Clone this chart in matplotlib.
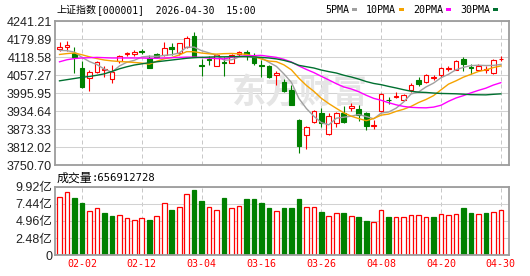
import numpy as np
import matplotlib
matplotlib.use("Agg")
import matplotlib.pyplot as plt
from matplotlib.patches import Rectangle

# trading days (MM-DD), last 60 sessions up to 2026-04-30
dates = ["01-28", "01-29", "01-30", "02-02", "02-03", "02-04", "02-05", "02-06",
         "02-09", "02-10", "02-11", "02-12", "02-13", "02-24", "02-25", "02-26",
         "02-27", "03-02", "03-03", "03-04", "03-05", "03-06", "03-09", "03-10",
         "03-11", "03-12", "03-13", "03-16", "03-17", "03-18", "03-19", "03-20",
         "03-23", "03-24", "03-25", "03-26", "03-27", "03-30", "03-31", "04-01",
         "04-02", "04-03", "04-07", "04-08", "04-09", "04-10", "04-13", "04-14",
         "04-15", "04-16", "04-17", "04-20", "04-21", "04-22", "04-23", "04-24",
         "04-27", "04-28", "04-29", "04-30"]
tick_dates = ["02-02", "02-12", "03-04", "03-16", "03-26", "04-08", "04-20", "04-30"]

opens = [4148, 4155, 4132, 4081, 4046, 4067, 4076, 4043, 4107, 4130,
         4129, 4139, 4115, 4130, 4126, 4152, 4132, 4155, 4191, 4091,
         4113, 4090, 4101, 4100, 4128, 4138, 4121, 4092, 4088, 4058,
         4033, 4007, 3905, 3852, 3896, 3927, 3856, 3893, 3927, 3945,
         3943, 3928, 3884, 3934, 3974, 3983, 3974, 4008, 4041, 4033,
         4048, 4057, 4080, 4076, 4114, 4084, 4076, 4076, 4065, 4111]
highs = [4171, 4173, 4153, 4105, 4074, 4106, 4089, 4092, 4126, 4138,
         4143, 4146, 4126, 4134, 4172, 4168, 4168, 4191, 4203, 4112,
         4123, 4128, 4121, 4129, 4139, 4143, 4132, 4110, 4092, 4073,
         4045, 4024, 3908, 3883, 3937, 3944, 3927, 3932, 3952, 3963,
         3957, 3931, 3906, 3997, 3983, 4000, 3993, 4030, 4050, 4060,
         4059, 4084, 4090, 4110, 4118, 4096, 4096, 4090, 4112, 4122]
lows = [4139, 4139, 4065, 4015, 4005, 4064, 4050, 4032, 4098, 4124,
        4124, 4129, 4081, 4117, 4123, 4126, 4126, 4151, 4118, 4054,
        4092, 4088, 4054, 4098, 4124, 4109, 4092, 4050, 4049, 4024,
        3999, 3954, 3792, 3806, 3893, 3880, 3854, 3881, 3895, 3934,
        3900, 3870, 3875, 3932, 3959, 3979, 3968, 4000, 4019, 4030,
        4040, 4052, 4073, 4074, 4071, 4062, 4071, 4066, 4063, 4105]
closes = [4153, 4159, 4121, 4018, 4068, 4102, 4080, 4069, 4124, 4132,
          4135, 4137, 4083, 4120, 4149, 4147, 4166, 4183, 4120, 4088,
          4110, 4126, 4099, 4126, 4136, 4130, 4100, 4088, 4052, 4066,
          4002, 3956, 3814, 3880, 3934, 3893, 3918, 3927, 3897, 3952,
          3921, 3884, 3888, 3994, 3971, 3986, 3990, 4025, 4028, 4057,
          4051, 4082, 4083, 4107, 4097, 4081, 4088, 4078, 4109, 4114]
# volume in 亿
volumes = [8.45, 9.19, 8.21, 7.48, 6.40, 6.84, 6.16, 5.72, 5.86, 5.38,
           5.08, 5.38, 5.13, 5.67, 7.48, 6.60, 6.99, 8.80, 9.38, 7.77,
           6.99, 6.55, 8.21, 6.84, 7.13, 8.06, 8.06, 7.48, 6.82, 6.38,
           6.82, 6.82, 8.15, 6.97, 6.97, 6.29, 5.68, 6.07, 6.10, 5.68,
           5.51, 4.98, 4.79, 6.53, 5.51, 5.51, 5.51, 5.80, 5.80, 5.51,
           5.51, 5.95, 5.80, 5.95, 6.82, 6.10, 5.95, 6.10, 6.25, 6.56912728]

# moving-average values before enough closes are inside the window
ma5_head = [4142, 4141, 4136, 4118]
ma10_head = [4128, 4131, 4133, 4127, 4120, 4114, 4109, 4106, 4104]
ma20_head = [4103, 4110, 4114, 4116, 4117, 4118, 4117, 4116, 4116, 4116,
             4116, 4116, 4115, 4115, 4116, 4117, 4118, 4119, 4119]
ma30_head = [4038, 4042, 4046, 4050, 4053, 4057, 4062, 4070, 4079, 4086,
             4092, 4096, 4100, 4103, 4106, 4109, 4112, 4115, 4117, 4118,
             4119, 4120, 4120, 4120.5, 4121, 4120.5, 4119.5, 4118, 4116]

y_ticks = [3750.70, 3812.02, 3873.33, 3934.64, 3995.95, 4057.27, 4118.58, 4179.89, 4241.21]
y_ticklabels = ["3750.70", "3812.02", "3873.33", "3934.64", "3995.95",
                "4057.27", "4118.58", "4179.89", "4241.21"]
v_ticks = [0, 2.48, 4.96, 7.44, 9.92]
v_ticklabels = ["0", "2.48亿", "4.96亿", "7.44亿", "9.92亿"]

ma_labels = ["5PMA", "10PMA", "20PMA", "30PMA"]
ma_colors = ["#a0a0a0", "#f5a300", "#ff00ff", "#007030"]

RED = "#ff0000"
GREEN = "#008000"
GRID = "#d2d2d2"
VGRID = "#c8c8c8"
FRAME = "#9c9c9c"
MONO = ["DejaVu Sans Mono", "Noto Sans CJK SC"]
CJK = ["Noto Sans CJK SC", "DejaVu Sans"]


def moving_average(head, n):
    vals = list(head)
    for i in range(len(head), len(c)):
        vals.append(c[i - n + 1:i + 1].mean())
    return np.array(vals)


o, h, l, c = (np.array(a, dtype=float) for a in (opens, highs, lows, closes))
v = np.array(volumes)
x = np.arange(len(c))
up = c >= o
dn = ~up
bot = np.minimum(o, c)
top = np.maximum(o, c)
vol_up = np.r_[c[0] >= o[0], c[1:] > c[:-1]]
tick_pos = [dates.index(d) for d in tick_dates]

W, H = 530, 276
fig = plt.figure(figsize=(W / 100, H / 100), dpi=100)
left, right = 54.5, 509.3
ax_k = fig.add_axes([left / W, 1 - 165.0 / H, (right - left) / W, (165.0 - 21.3) / H])
ax_v = fig.add_axes([left / W, 1 - 255.3 / H, (right - left) / W, (255.3 - 186.5) / H])

# watermark
ax_k.text(0.54, 0.50, "东方财富", transform=ax_k.transAxes, ha="center", va="center",
          fontsize=24.5, fontweight="bold", color="#e5e5e5", family=CJK, zorder=0.6)

# candles
bw = 0.62
ax_k.vlines(x[up], l[up], bot[up], color=RED, lw=0.8, zorder=2)
ax_k.vlines(x[up], top[up], h[up], color=RED, lw=0.8, zorder=2)
ax_k.bar(x[up], (c - o)[up], bottom=o[up], width=bw, facecolor="white",
         edgecolor=RED, linewidth=0.8, zorder=2)
ax_k.vlines(x[dn], l[dn], h[dn], color=GREEN, lw=0.8, zorder=2)
ax_k.bar(x[dn], (o - c)[dn], bottom=c[dn], width=bw, facecolor=GREEN,
         edgecolor=GREEN, linewidth=0.8, zorder=2)

# moving averages
for head, n, col in zip((ma5_head, ma10_head, ma20_head, ma30_head), (5, 10, 20, 30), ma_colors):
    ax_k.plot(x, moving_average(head, n), color=col, lw=1.0, zorder=3)

# volume
ax_v.bar(x[vol_up], v[vol_up], width=bw, facecolor="white", edgecolor=RED,
         linewidth=0.9, zorder=2)
ax_v.bar(x[~vol_up], v[~vol_up], width=bw, facecolor=GREEN, edgecolor=GREEN,
         linewidth=0.9, zorder=2)

for ax in (ax_k, ax_v):
    ax.set_xlim(-0.67, 60.13)
    ax.set_xticks(tick_pos)
    ax.grid(True, axis="x", color=VGRID, lw=0.72, ls=(0, (4, 3)), zorder=0.5)
    ax.grid(True, axis="y", color=GRID, lw=0.75, ls="-", zorder=0.5)
    ax.set_axisbelow(True)
    for s in ax.spines.values():
        s.set_color(FRAME)
        s.set_linewidth(1.3)
    ax.tick_params(length=0)

ax_k.set_ylim(y_ticks[0], y_ticks[-1])
ax_k.set_yticks(y_ticks)
ax_k.set_yticklabels(y_ticklabels, family="Liberation Sans", fontsize=9, color="#222222")
ax_k.tick_params(axis="y", pad=2)
ax_k.tick_params(labelbottom=False)

ax_v.set_ylim(0, v_ticks[-1])
ax_v.set_yticks(v_ticks)
ax_v.set_yticklabels(v_ticklabels, family=["Liberation Sans", "Noto Sans CJK SC"],
                     fontsize=9, color="#222222")
ax_v.tick_params(axis="y", pad=1.5)
ax_v.set_xticklabels(tick_dates, family=MONO, fontsize=7.2, color=RED)
ax_v.tick_params(axis="x", pad=3)

# header
fig.text(56.7 / W, 1 - 12.8 / H, "上证指数", family=CJK, fontsize=7.2, va="baseline")
fig.text(96.7 / W, 1 - 12.8 / H, "[000001]  2026-04-30  15:00", family=MONO,
         fontsize=7.05, va="baseline")

# MA legend
px = 325.0
for lab, col in zip(ma_labels, ma_colors):
    fig.text(px / W, 1 - 12.7 / H, lab, family=MONO, fontsize=7.2, va="baseline")
    px += len(lab) * 6.0 + 3
    fig.patches.append(Rectangle((px / W, 1 - 11.2 / H), 5 / W, 3 / H,
                                 transform=fig.transFigure, facecolor=col, edgecolor="none"))
    px += 5 + 9

# volume caption
fig.text(57 / W, 1 - 181.5 / H, "成交量", family=CJK, fontsize=8.6, va="baseline")
fig.text(92 / W, 1 - 181.0 / H, ":%d" % round(volumes[-1] * 1e8), family=MONO,
         fontsize=7.6, va="baseline")

fig.savefig("out.png", dpi=100)
